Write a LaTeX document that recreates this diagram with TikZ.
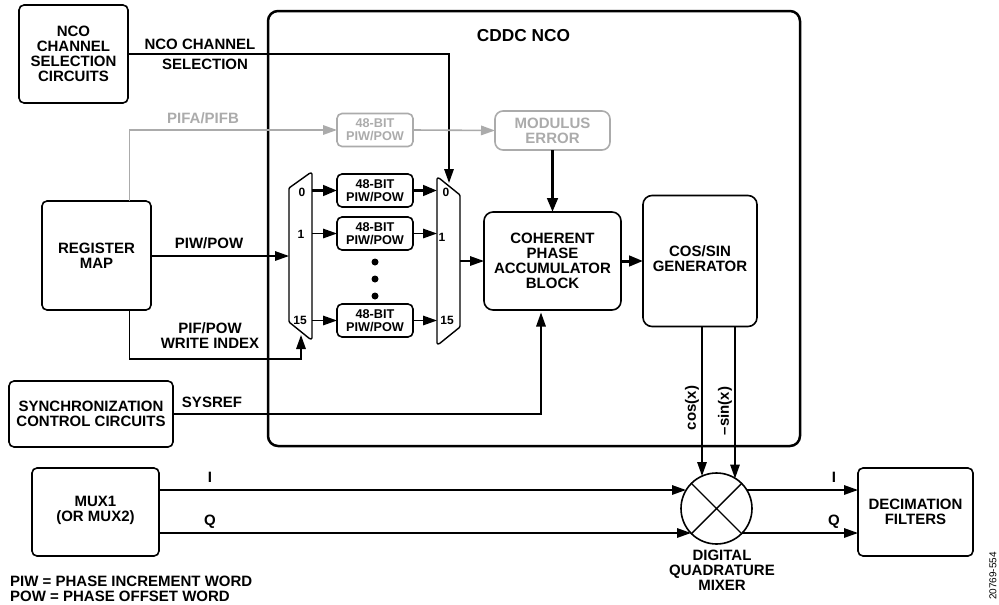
\documentclass[tikz,border=0pt]{standalone}
\usepackage{fontspec}
\setmainfont{Liberation Sans}
\usetikzlibrary{arrows.meta,positioning,calc}

\begin{document}
\begin{tikzpicture}[
  x=1pt, y=-1pt,
  font=\fontsize{15}{15}\selectfont\bfseries,
  box/.style={draw, rounded corners=5pt, align=center, line width=1.6pt, outer sep=0pt, inner sep=0pt},
  wordbox/.style={box, minimum width=76pt, minimum height=33pt, font=\fontsize{12.7}{12.7}\selectfont\bfseries},
  muxline/.style={draw, line width=1.4pt, rounded corners=1pt},
  port/.style={font=\fontsize{12}{12}\selectfont\bfseries, inner sep=0pt},
  lab/.style={inner sep=0pt, align=center},
  arr/.style={-{Triangle[length=14pt,width=9.5pt]}, line width=1.5pt},
  arrthick/.style={-{Triangle[length=14pt,width=10.5pt]}, line width=3pt},
  arrgrey/.style={-{Triangle[length=14pt,width=9.5pt,black!33]}, line width=1.6pt, draw=black!33},
  greyed/.style={draw=black!33, text=black!33}
]
\useasboundingbox (0,0) rectangle (999,605);

% CDDC frame
\node[box, line width=2.5pt, rounded corners=10pt, minimum width=532pt, minimum height=435pt] (cddc) at (534,228.5) {};
\node[lab, font=\fontsize{17.3}{17.3}\selectfont\bfseries] (cddclab) at (523.5,36) {CDDC NCO};

% outside blocks
\node[box, minimum width=109pt, minimum height=98pt] (nco) at (73.5,54) {NCO\\CHANNEL\\SELECTION\\CIRCUITS};
\node[box, minimum width=109pt, minimum height=109pt] (reg) at (96.5,255.5) {REGISTER\\MAP};
\node[box, minimum width=164pt, minimum height=66pt] (sync) at (91,414) {SYNCHRONIZATION\\CONTROL CIRCUITS};
\node[box, minimum width=127pt, minimum height=88pt] (mux) at (95.5,512) {};
\node[lab] (muxlab) at (95.5,510.5) {MUX1\\(OR MUX2)};
\node[box, minimum width=115pt, minimum height=88pt] (dec) at (915.5,512) {DECIMATION\\FILTERS};

% inside blocks
\node[wordbox, greyed] (pifa) at (375,130) {48-BIT\\PIW/POW};
\node[box, greyed, rounded corners=8pt, minimum width=115pt, minimum height=39pt] (mod) at (552.5,130.5) {MODULUS\\ERROR};
\node[wordbox] (word0) at (375,190.5) {48-BIT\\PIW/POW};
\node[wordbox, below=10pt of word0] (word1) {48-BIT\\PIW/POW};
\node[wordbox] (word15) at (375,320.5) {48-BIT\\PIW/POW};
\node[box, rounded corners=9pt, minimum width=137pt, minimum height=98pt] (acc) at (552.5,261) {COHERENT\\PHASE\\ACCUMULATOR\\BLOCK};
\node[box, rounded corners=9pt, minimum width=114pt, minimum height=131pt] (gen) at (700,261) {};
\node[lab] (genlab) at (700,258.5) {COS/SIN\\GENERATOR};

% dots
\foreach \y/\n in {262/a,279/b,296/c}
  \node[circle, fill, inner sep=0pt, minimum size=7pt] (dot\n) at (375,\y) {};

% muxes, the nodes only hold the anchors
\node[inner sep=0pt, outer sep=0pt, minimum width=23pt, minimum height=166pt] (muxl) at (300.5,256) {};
\node[inner sep=0pt, outer sep=0pt, minimum width=23pt, minimum height=166pt] (muxr) at (448.5,261) {};
\draw[muxline] (muxl.west |- 0,188) -- (310,173) -- (muxl.north east) -- (muxl.south east) -- (310,339) -- (muxl.west |- 0,322) -- cycle;
\draw[muxline] (muxr.north west) -- (439,178) -- (muxr.east |- 0,195) -- (muxr.east |- 0,327) -- (439,344) -- (muxr.south west) -- cycle;

\node[port] (l0) at (302,192.5) {0};
\node[port] (l1) at (301,234) {1};
\node[port] (l15) at (300,320) {15};
\node[port] (r0) at (446,192.5) {0};
\node[port] (r1) at (442,237) {1};
\node[port] (r15) at (447,320) {15};

% mixer
\node[circle, draw, line width=1.6pt, minimum size=71pt, inner sep=0pt, outer sep=0pt] (mix) at (716.5,508.5) {};
\draw[line width=1.4pt] (mix.45) -- (mix.225) (mix.135) -- (mix.315);
\node[lab, below=6pt of mix.south, xshift=5.5pt] (mixlab) {DIGITAL\\QUADRATURE\\MIXER};

% connectors
\coordinate (seltop) at (449,183);
\draw[arr] (nco.east) -| (seltop);
\draw[arrgrey] (reg.north -| 129.5,0) |- (pifa.west);
\draw[arrgrey] (pifa.east) -- (mod.west);
\draw[arrthick] (mod.south) -- (mod.south |- acc.north);
\draw[arr] (reg.east |- muxl.west) -- (muxl.west);
\coordinate (wrend) at (301,335);
\draw[arr] (reg.south -| 129.5,0) |- (301,359) -- (wrend);
\draw[arrthick] (muxl.east |- word0.west) -- (word0.west);
\draw[arrthick] (word0.east) -- (muxr.west |- word0.east);
\draw[arr] (muxl.east |- word1.west) -- (word1.west);
\draw[arr] (word1.east) -- (muxr.west |- word1.east);
\draw[arr] (muxl.east |- word15.west) -- (word15.west);
\draw[arr] (word15.east) -- (muxr.west |- word15.east);
\draw[arr] (muxr.east |- acc.west) -- (acc.west);
\draw[arrthick] (acc.east) -- (gen.west);
\coordinate (sysend) at (541,312.5);
\draw[arr] (sync.east) -| (sysend);
\coordinate (cosend) at (702,476);
\coordinate (sinend) at (735,478.5);
\draw[arr] (cosend |- gen.south) -- (cosend);
\draw[arr] (sinend |- gen.south) -- (sinend);
\coordinate (imix) at (686,490);
\coordinate (qmix) at (691,533);
\draw[arr] (mux.east |- imix) -- (imix);
\draw[arr] (mux.east |- qmix) -- (qmix);
\coordinate (iback) at (747,490);
\coordinate (qback) at (742,533);
\draw[arr] (iback) -- (dec.west |- iback);
\draw[arr] (qback) -- (dec.west |- qback);

% labels
\node[lab] (sellab1) at (200,44.5) {NCO CHANNEL};
\node[lab] (sellab2) at (205,64.5) {SELECTION};
\node[lab, text=black!33] (pifalab) at (203,118) {PIFA/PIFB};
\node[lab] (piwlab) at (209,243.5) {PIW/POW};
\node[lab] (wrlab) at (210,335.5) {PIF/POW\\WRITE INDEX};
\node[lab] (syslab) at (212,402) {SYSREF};
\node[lab] (ilab) at (210,477.5) {I};
\node[lab] (qlab) at (210,522) {Q};
\node[lab] (iout) at (834,477.5) {I};
\node[lab] (qout) at (834,522) {Q};
\node[lab, rotate=90] (coslab) at (692,408) {cos(x)};
\node[lab, rotate=90] (sinlab) at (725,411) {--sin(x)};
\node[lab, align=left, anchor=north west] (notes) at (10,576) {PIW = PHASE INCREMENT WORD\\POW = PHASE OFFSET WORD};
\node[lab, rotate=90, font=\fontsize{10}{10}\selectfont] (figno) at (993,576) {20769-554};
\end{tikzpicture}
\end{document}
